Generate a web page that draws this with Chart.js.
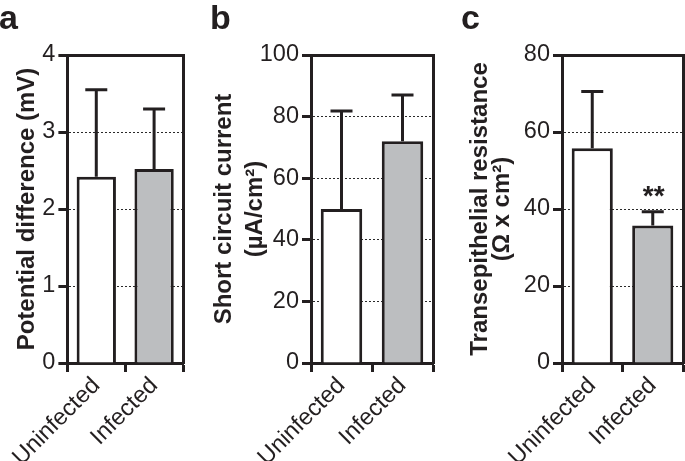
<!DOCTYPE html>
<html>
<head>
<meta charset="utf-8">
<script src="https://cdn.jsdelivr.net/npm/chart.js@4.4.1/dist/chart.umd.min.js"></script>
<style>
  body { margin: 0; background: #fff; }
  #wrap { position: relative; width: 685px; height: 461px; overflow: hidden; font-family: "Liberation Sans", Arial, sans-serif; }
  canvas { position: absolute; top: 0; }
  .letter { position: absolute; top: 0px; font-weight: bold; font-size: 34px; line-height: 34px; color: #231f20; }
</style>
</head>
<body>
<div id="wrap">
  <canvas id="chartA" width="195" height="461" style="left:0px"></canvas>
  <canvas id="chartB" width="245" height="461" style="left:195px"></canvas>
  <canvas id="chartC" width="245" height="461" style="left:440px"></canvas>
  <div class="letter" style="left:-1px">a</div>
  <div class="letter" style="left:210px">b</div>
  <div class="letter" style="left:461px">c</div>
</div>
<script>
// groups on the x axis
const groups = ['Uninfected', 'Infected'];
const barColors = ['#ffffff', '#bcbec0'];

// a: potential difference (mV), mean and upper error
const pdMean = [2.42, 2.52];
const pdErr = [1.13, 0.78];
const pdMax = 4, pdStep = 1;

// b: short circuit current (uA/cm2)
const iscMean = [50, 72];
const iscErr = [31.8, 15];
const iscMax = 100, iscStep = 20;

// c: transepithelial resistance (ohm x cm2)
const terMean = [55.8, 35.7];
const terErr = [14.7, 3.6];
const terMax = 80, terStep = 20;
const terMarks = ['', '**'];

const ink = '#231f20';
const family = '"Liberation Sans", Arial, sans-serif';

// draws the upward error bar (and significance marks) for each bar
const errorBars = {
    id: 'errorBars',
    afterDatasetsDraw(chart, args, opts) {
        const ctx = chart.ctx;
        const yScale = chart.scales.y;
        const values = chart.data.datasets[0].data;
        ctx.save();
        ctx.strokeStyle = ink;
        ctx.fillStyle = ink;
        ctx.lineWidth = 3;
        chart.getDatasetMeta(0).data.forEach((bar, i) => {
            const top = yScale.getPixelForValue(values[i] + opts.errors[i]);
            ctx.beginPath();
            ctx.moveTo(bar.x, bar.y);
            ctx.lineTo(bar.x, top);
            ctx.moveTo(bar.x - 11, top);
            ctx.lineTo(bar.x + 11, top);
            ctx.stroke();
            if (opts.marks && opts.marks[i]) {
                ctx.font = 'bold 28px ' + family;
                ctx.textAlign = 'center';
                ctx.textBaseline = 'alphabetic';
                ctx.fillText(opts.marks[i], bar.x + 1, top - 7);
            }
        });
        ctx.restore();
    }
};

function makePanel(id, mean, errors, yMax, yStep, title, titleLine, titlePad, yWidth, padRight, marks) {
    return new Chart(document.getElementById(id).getContext('2d'), {
        type: 'bar',
        data: {
            labels: groups,
            datasets: [{
                data: mean,
                backgroundColor: barColors,
                borderColor: ink,
                borderWidth: 3,
                barPercentage: 0.68,
                categoryPercentage: 1
            }]
        },
        options: {
            responsive: false,
            animation: false,
            layout: { padding: { left: 0, right: padRight, top: 55, bottom: 0 } },
            plugins: {
                legend: { display: false },
                tooltip: { enabled: false },
                errorBars: { errors: errors, marks: marks }
            },
            scales: {
                x: {
                    ticks: { color: ink, font: { size: 23.5, family: family }, maxRotation: 45, minRotation: 45, padding: 0 },
                    grid: { drawOnChartArea: false, color: ink, tickColor: ink, tickWidth: 3, tickLength: 9 },
                    border: { color: ink, width: 3 },
                    afterFit: s => { s.height = 98; }
                },
                x2: {
                    type: 'category',
                    position: 'top',
                    ticks: { display: false },
                    grid: { display: false, drawTicks: false },
                    border: { color: ink, width: 3 },
                    afterFit: s => { s.height = 0; }
                },
                y: {
                    min: 0,
                    max: yMax,
                    ticks: { stepSize: yStep, color: ink, font: { size: 23.5, family: family }, padding: 3 },
                    grid: {
                        color: c => (c.tick && (c.tick.value === 0 || c.tick.value === yMax)) ? 'rgba(0,0,0,0)' : '#2a2a2a',
                        lineWidth: 1,
                        tickColor: ink,
                        tickWidth: 3,
                        tickLength: 9,
                        tickBorderDash: []
                    },
                    border: { color: ink, width: 3, dash: [2, 2] },
                    title: {
                        display: true,
                        text: title,
                        color: ink,
                        font: { size: 24, weight: 'bold', family: family, lineHeight: titleLine },
                        padding: { top: titlePad, bottom: 0 }
                    },
                    afterFit: s => { s.width = yWidth; }
                },
                y2: {
                    type: 'linear',
                    position: 'right',
                    ticks: { display: false },
                    grid: { display: false, drawTicks: false },
                    border: { color: ink, width: 3 },
                    afterFit: s => { s.width = 0; }
                }
            }
        },
        plugins: [errorBars]
    });
}

makePanel('chartA', pdMean, pdErr, pdMax, pdStep, 'Potential difference (mV)', '28px', 7.5, 62, 12);
makePanel('chartB', iscMean, iscErr, iscMax, iscStep, ['Short circuit current', '(µA/cm²)'], '31px', 14, 116, 7);
makePanel('chartC', terMean, terErr, terMax, terStep, ['Transepithelial resistance', '(Ω x cm²)'], '22px', 29, 122, 2, terMarks);
</script>
</body>
</html>
